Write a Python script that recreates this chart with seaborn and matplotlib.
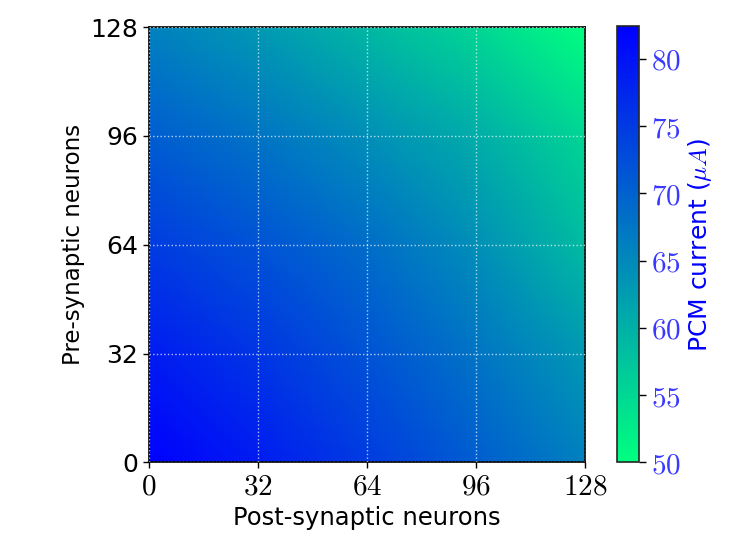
import matplotlib
matplotlib.use("Agg")
import matplotlib.pyplot as plt
import seaborn as sns

post_idx = [0, 32, 64, 96, 128]
pre_idx = [0, 32, 64, 96, 128]

# PCM current (uA), one list per pre-synaptic row (bottom -> top)
current_pre0 = [82.4, 78.9, 74.9, 70.6, 66.0]
current_pre32 = [78.9, 75.6, 71.8, 67.6, 63.0]
current_pre64 = [74.9, 71.8, 68.5, 64.3, 58.6]
current_pre96 = [70.6, 67.6, 64.3, 60.4, 55.2]
current_pre128 = [66.0, 63.0, 59.0, 55.2, 49.8]
current = [current_pre0, current_pre32, current_pre64, current_pre96, current_pre128]

cbar_ticks = [50, 55, 60, 65, 70, 75, 80]
vmin, vmax = 50, 82.4

sns.set_style("ticks")
plt.rcParams['font.family'] = ['DejaVu Sans']
plt.rcParams['mathtext.fontset'] = 'cm'

fig = plt.figure(figsize=(7.39, 5.54), dpi=100)
ax = fig.add_axes([0.201, 0.1652, 0.5907, 0.786])
mesh = ax.pcolormesh(post_idx, pre_idx, current, shading='gouraud',
                     cmap='winter_r', vmin=vmin, vmax=vmax)

ax.set_xlim(0, 128)
ax.set_ylim(0, 128)
ax.set_xticks(post_idx)
ax.set_xticklabels([f'${t}$' for t in post_idx], fontsize=21)
ax.set_yticks(pre_idx)
ax.set_yticklabels([str(t) for t in pre_idx], fontsize=18)
ax.tick_params(direction='out', length=4, width=1, colors='black')
ax.set_xlabel('Post-synaptic neurons', fontsize=17.5, color='black')
ax.set_ylabel('Pre-synaptic neurons', fontsize=16.5, color='black')
ax.set_axisbelow(False)
ax.grid(True, color='white', linestyle=':', linewidth=1, alpha=0.7)
for sp in ax.spines.values():
    sp.set_linewidth(1.2)
    sp.set_color('black')

cax = fig.add_axes([617 / 739, 0.1652, 22 / 739, 0.787])
cbar = fig.colorbar(mesh, cax=cax, ticks=cbar_ticks)
cbar.ax.set_yticklabels([f'${t}$' for t in cbar_ticks], fontsize=21, color='#3a3aff')
cbar.ax.tick_params(length=5, width=1, colors='black', labelcolor='#3a3aff')
cbar.set_label(r'PCM current ($\mu A$)', color='blue', fontsize=18)
cbar.outline.set_linewidth(1.2)

fig.savefig('out.png', dpi=100)
